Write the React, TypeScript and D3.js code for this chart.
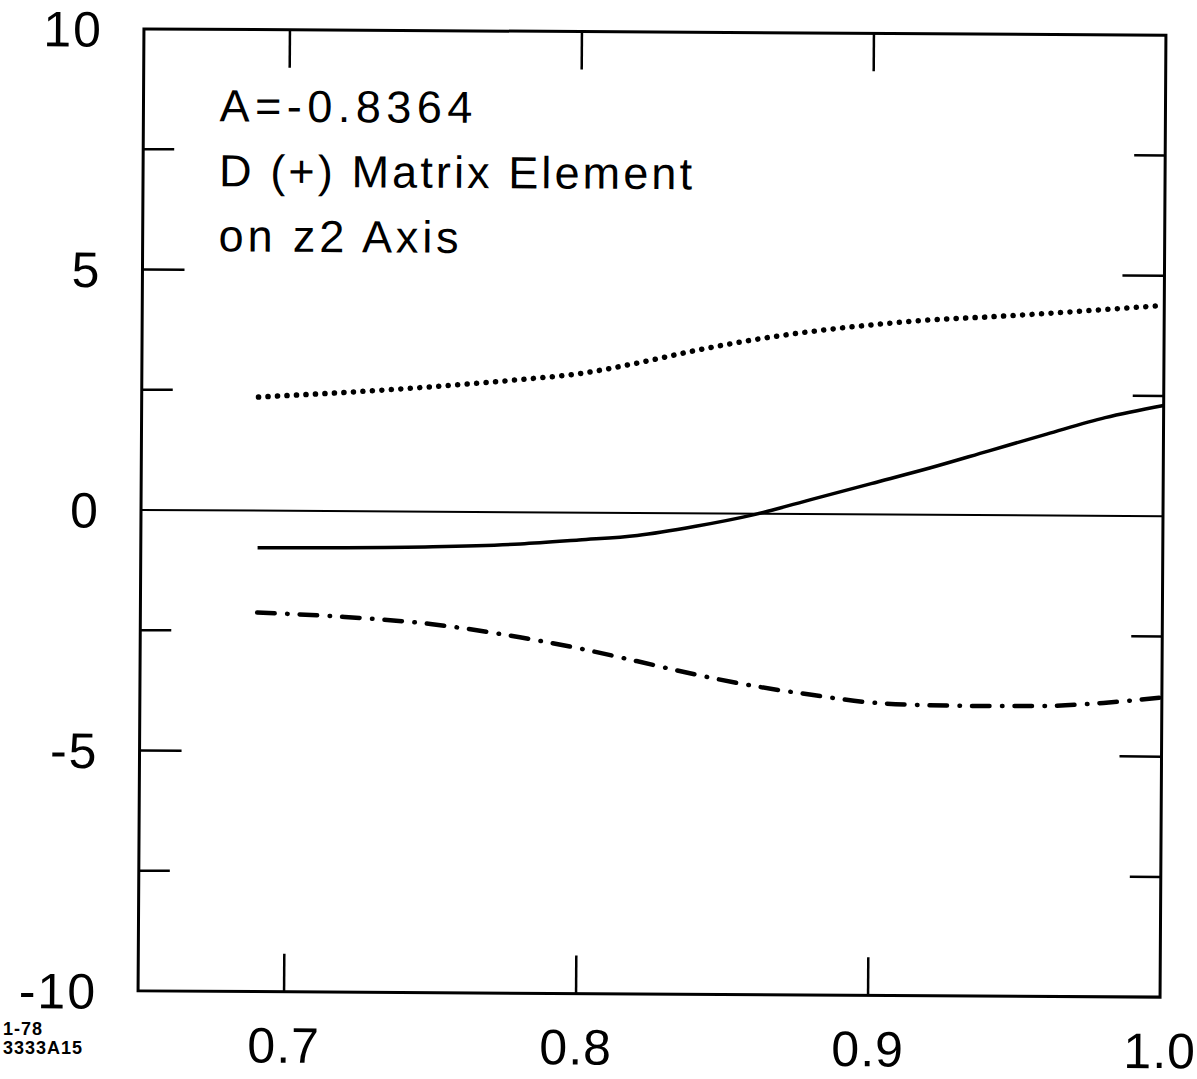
import * as d3 from "d3";

// data
const xs = [0.69, 0.72, 0.75, 0.78, 0.8, 0.82, 0.84, 0.86, 0.88, 0.9, 0.92, 0.94, 0.96, 0.98, 1.0];
const solid = [-0.77, -0.76, -0.73, -0.66, -0.57, -0.47, -0.27, -0.02, 0.31, 0.64, 0.97, 1.33, 1.69, 2.04, 2.3];
const dotted = [2.36, 2.47, 2.6, 2.76, 2.89, 3.12, 3.39, 3.62, 3.8, 3.94, 4.05, 4.12, 4.2, 4.29, 4.38];
const dashDot = [-2.12, -2.2, -2.34, -2.6, -2.82, -3.08, -3.35, -3.58, -3.76, -3.91, -3.96, -3.97, -3.96, -3.89, -3.77];

const xTicks = [0.7, 0.8, 0.9];
const xLabels = ["0.7", "0.8", "0.9", "1.0"];
const xLabelVals = [0.7, 0.8, 0.9, 1.0];
const yMajor = [-5, 5];
const yMinor = [-7.5, -2.5, 2.5, 7.5];
const yLabels = ["10", "5", "0", "-5", "-10"];
const yLabelVals = [10, 5, 0, -5, -10];

const notes = ["A=-0.8364", "D (+) Matrix Element", "on z2 Axis"];
const noteWidths = [253, 473, 240];

const W = 1197;
const H = 1079;
const font = "'Liberation Sans', Arial, sans-serif";

export default function App() {
  const x = d3.scaleLinear().domain([0.65, 1.0]).range([141, 1163]);
  const y = d3.scaleLinear().domain([-10, 10]).range([994, 32]);
  const [x0, x1] = x.range();
  const [y0, y1] = y.range();

  const line = d3
    .line<number>()
    .x((d, i) => x(xs[i]))
    .y((d) => y(d))
    .curve(d3.curveMonotoneX);

  return (
    <svg width={W} height={H} style={{ position: "absolute", left: 0, top: 0, background: "#fff" }}>
      <g transform="rotate(0.35 650 513)">
        {/* frame */}
        <rect x={x0} y={y1} width={x1 - x0} height={y0 - y1} fill="none" stroke="#000" strokeWidth={3} />
        {/* zero line */}
        <line x1={x0} x2={x1} y1={y(0)} y2={y(0)} stroke="#000" strokeWidth={2} />

        {/* x ticks top & bottom */}
        {xTicks.map((t) => (
          <g key={t}>
            <line x1={x(t)} x2={x(t)} y1={y0} y2={y0 - 38} stroke="#000" strokeWidth={2.5} />
            <line x1={x(t)} x2={x(t)} y1={y1} y2={y1 + 38} stroke="#000" strokeWidth={2.5} />
          </g>
        ))}
        {/* y ticks left & right */}
        {yMajor.map((t) => (
          <g key={t}>
            <line x1={x0} x2={x0 + 42} y1={y(t)} y2={y(t)} stroke="#000" strokeWidth={2.5} />
            <line x1={x1} x2={x1 - 42} y1={y(t)} y2={y(t)} stroke="#000" strokeWidth={2.5} />
          </g>
        ))}
        {yMinor.map((t) => (
          <g key={t}>
            <line x1={x0} x2={x0 + 31} y1={y(t)} y2={y(t)} stroke="#000" strokeWidth={2.5} />
            <line x1={x1} x2={x1 - 31} y1={y(t)} y2={y(t)} stroke="#000" strokeWidth={2.5} />
          </g>
        ))}

        {/* tick labels */}
        {yLabels.map((s, i) => (
          <text
            key={s}
            x={100}
            y={y(yLabelVals[i])}
            dy="0.36em"
            textAnchor="end"
            fontFamily={font}
            fontSize={50}
            letterSpacing={2}
          >
            {s}
          </text>
        ))}
        {xLabels.map((s, i) => (
          <text key={s} x={x(xLabelVals[i])} y={1065} textAnchor="middle" fontFamily={font} fontSize={50} letterSpacing={1}>
            {s}
          </text>
        ))}

        {/* curves */}
        <path d={line(solid) ?? ""} fill="none" stroke="#000" strokeWidth={3.5} />
        <path
          d={line(dotted) ?? ""}
          fill="none"
          stroke="#000"
          strokeWidth={5.5}
          strokeLinecap="round"
          strokeDasharray="0.1 9.4"
        />
        <path
          d={line(dashDot) ?? ""}
          fill="none"
          stroke="#000"
          strokeWidth={4.5}
          strokeLinecap="round"
          strokeDasharray="17.5 12.5 0.5 12"
        />

        {/* annotation */}
        {notes.map((s, i) => (
          <text
            key={s}
            x={217}
            y={124 + i * 65}
            fontFamily={font}
            fontSize={45}
            textLength={noteWidths[i]}
            lengthAdjust="spacing"
          >
            {s}
          </text>
        ))}
      </g>

      <text x={3} y={1035} fontFamily={font} fontSize={18} fontWeight="bold" letterSpacing={1}>
        1-78
      </text>
      <text x={3} y={1054} fontFamily={font} fontSize={18} fontWeight="bold" letterSpacing={1}>
        3333A15
      </text>
    </svg>
  );
}
